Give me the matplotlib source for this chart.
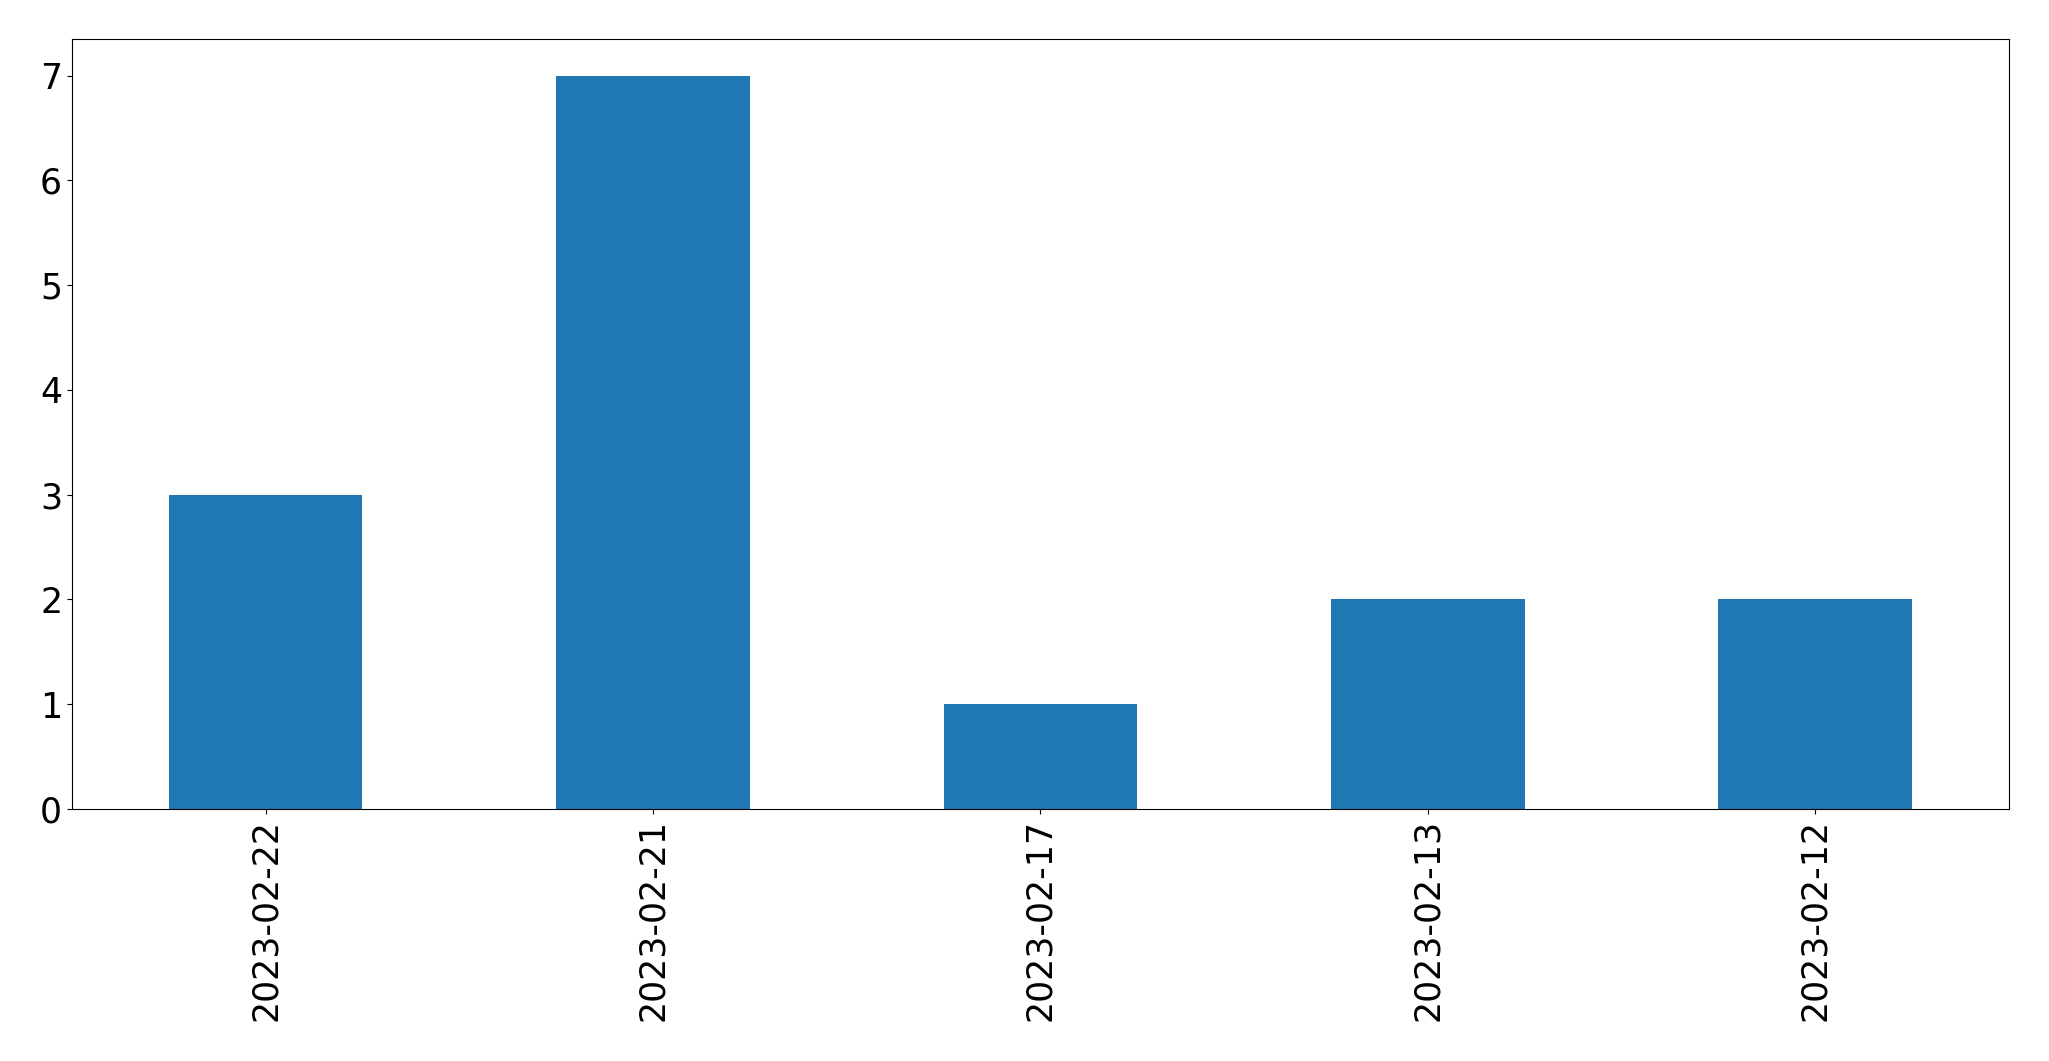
import matplotlib
matplotlib.use("Agg")
import matplotlib.pyplot as plt
import pandas as pd

dates = ["2023-02-22", "2023-02-21", "2023-02-17", "2023-02-13", "2023-02-12"]
counts = [3, 7, 1, 2, 2]


def main():
    s = pd.Series(counts, index=dates)
    fig, ax = plt.subplots(figsize=(20.49, 10.61), dpi=100)
    s.plot(kind="bar", ax=ax, color="#1f77b4", fontsize=25)
    fig.subplots_adjust(left=0.0351, right=0.9805, top=0.9632, bottom=0.2375)
    fig.savefig("out.png", dpi=100)


if __name__ == "__main__":
    main()
